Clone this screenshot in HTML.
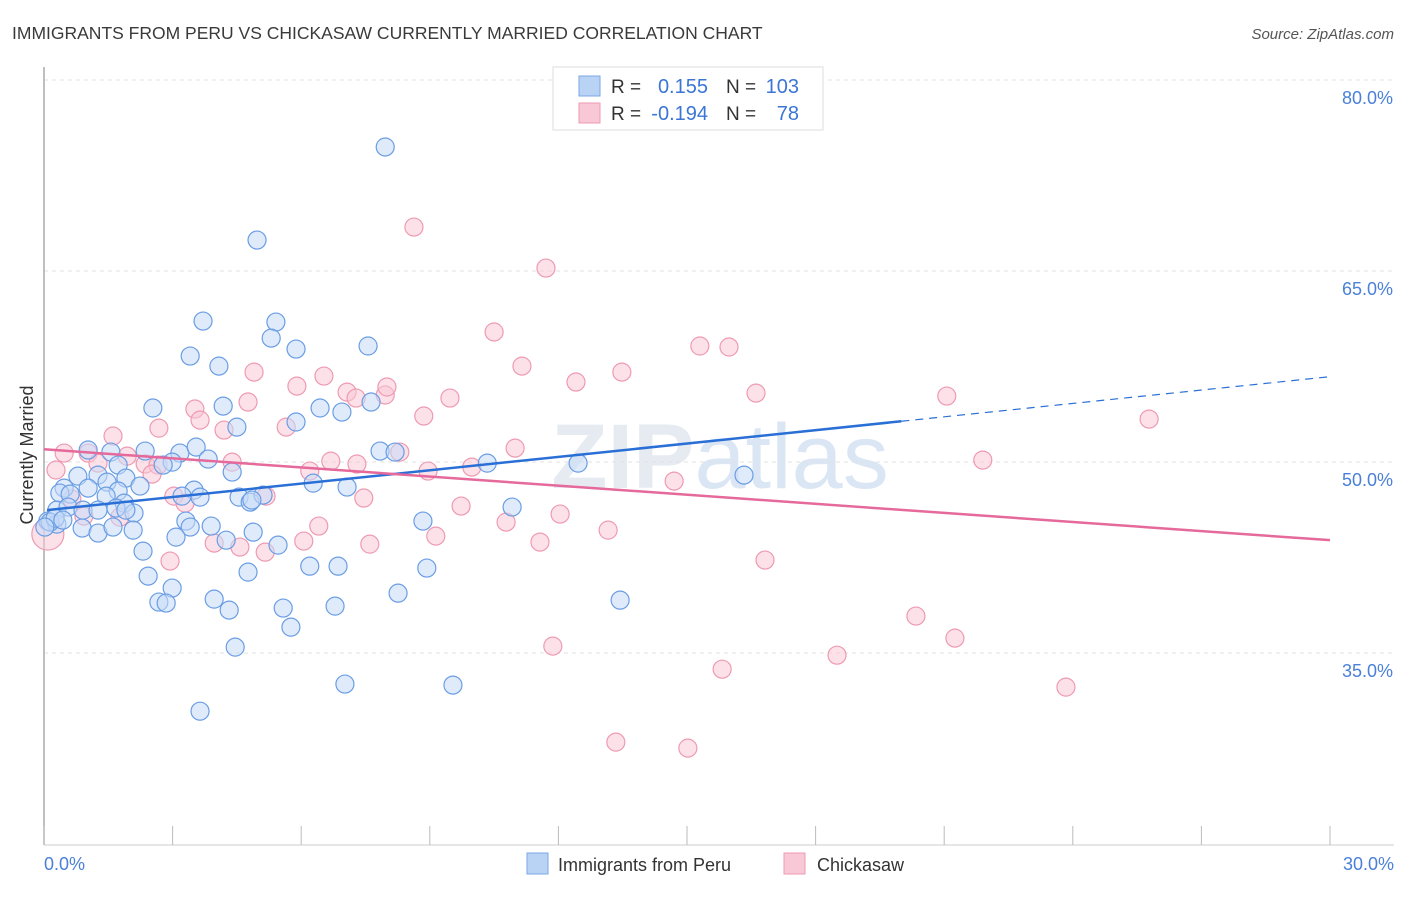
<!DOCTYPE html>
<html><head><meta charset="utf-8"><style>
body{margin:0;background:#fff;font-family:"Liberation Sans",sans-serif;}
svg text{font-family:"Liberation Sans",sans-serif;}
</style></head><body>
<svg id="chart" width="1406" height="892" viewBox="0 0 1406 892" xmlns="http://www.w3.org/2000/svg">
<text x="12" y="39" font-size="17.5" fill="#3a3a3a">IMMIGRANTS FROM PERU VS CHICKASAW CURRENTLY MARRIED CORRELATION CHART</text>
<text x="1394" y="39" font-size="15" fill="#555" font-style="italic" text-anchor="end">Source: ZipAtlas.com</text>
<text x="720" y="488" font-size="92" fill="#e6ebf2" text-anchor="middle" font-weight="bold" font-family="Liberation Serif">ZIP<tspan font-weight="normal" font-family="Liberation Sans" fill="#dbe6f5">atlas</tspan></text>
<g id="grid"></g><g id="axes"></g><g id="pts"></g><g id="trend"></g>
<text transform="translate(33,455) rotate(-90)" font-size="18" fill="#333" text-anchor="middle">Currently Married</text>
<g>
<rect x="553" y="67" width="270" height="63" fill="#fff" stroke="#ddd"/>
<rect x="579" y="76" width="21" height="20" fill="#b9d3f5" stroke="#7aa7e6"/>
<rect x="579" y="103" width="21" height="20" fill="#f9c8d6" stroke="#ee9ab2"/>
<text x="611" y="93" font-size="19" fill="#333">R =</text>
<text x="708" y="93" font-size="20" fill="#3b76d6" text-anchor="end">0.155</text>
<text x="726" y="93" font-size="19" fill="#333">N =</text>
<text x="799" y="93" font-size="20" fill="#3b76d6" text-anchor="end">103</text>
<text x="611" y="120" font-size="19" fill="#333">R =</text>
<text x="708" y="120" font-size="20" fill="#3b76d6" text-anchor="end">-0.194</text>
<text x="726" y="120" font-size="19" fill="#333">N =</text>
<text x="799" y="120" font-size="20" fill="#3b76d6" text-anchor="end">78</text>
</g>
<g>
<rect x="527" y="853" width="21" height="21" fill="#b9d3f5" stroke="#7aa7e6"/>
<text x="558" y="871" font-size="18" fill="#333">Immigrants from Peru</text>
<rect x="784" y="853" width="21" height="21" fill="#f9c8d6" stroke="#ee9ab2"/>
<text x="817" y="871" font-size="18" fill="#333">Chickasaw</text>
</g>
</svg>
<script>
const blueX=[7.96,4.97,3.71,5.41,3.41,5.30,5.88,7.56,4.08,2.54,4.18,7.63,5.88,6.44,6.95,4.50,2.36,3.17,3.55,3.83,2.99,2.78,1.56,1.03,1.73,7.84,8.19,10.34,12.46,16.33,4.39,1.91,1.26,0.79,1.47,2.24,0.47,0.37,0.61,1.03,1.73,1.45,1.87,2.10,7.07,6.28,3.50,3.64,3.22,4.55,4.81,5.11,4.85,0.30,0.56,0.91,1.26,1.68,1.91,0.09,0.30,0.89,1.26,1.61,2.08,3.31,3.41,3.90,4.88,3.08,4.25,8.84,10.92,5.46,2.31,6.20,6.86,4.76,8.93,2.43,2.99,3.97,2.68,2.85,4.32,5.58,6.79,8.26,13.44,5.76,4.46,7.02,9.54,3.64,0.14,0.26,0.02,0.44];
const blueY=[74.74,67.43,61.07,60.99,58.32,59.73,58.87,59.11,57.53,54.24,54.39,54.71,53.14,54.24,53.92,52.74,50.86,50.70,51.17,50.23,49.99,49.76,50.78,50.94,49.76,50.86,50.78,49.91,49.91,48.97,49.21,48.74,48.97,48.89,48.42,48.11,47.95,47.56,47.48,47.95,47.72,47.32,46.77,45.99,48.03,48.34,47.79,47.24,47.32,47.24,46.85,47.40,47.01,46.22,46.46,46.22,46.22,46.38,46.22,45.36,45.12,44.81,44.42,44.89,44.65,45.36,44.89,44.97,44.49,44.10,43.86,45.36,46.46,43.47,43.00,41.82,41.82,41.35,41.67,41.04,40.10,39.23,39.00,38.92,38.37,38.53,38.68,39.70,39.15,37.03,35.46,32.56,32.48,30.43,45.28,45.59,44.89,45.44];
const pinkX=[8.63,11.71,10.50,15.30,15.98,11.15,13.48,4.90,5.90,6.53,12.41,7.07,7.28,7.96,8.00,16.61,21.06,25.78,9.47,3.52,4.76,3.64,5.65,8.86,1.61,2.68,4.20,0.47,1.03,1.26,1.94,2.36,2.66,4.39,6.69,7.30,8.30,10.99,21.90,0.28,2.52,6.20,8.96,9.98,14.70,3.03,3.29,5.18,7.46,0.65,9.73,0.93,1.77,12.04,10.78,6.41,13.16,9.14,11.57,3.97,4.57,6.06,7.60,5.16,2.94,16.82,20.34,21.25,11.87,18.50,15.82,23.84,13.34,15.02,0.09];
const pinkY=[68.45,65.23,60.21,59.11,59.03,57.53,57.06,57.06,55.96,56.75,56.28,55.49,55.02,55.26,55.89,55.41,55.18,53.37,55.02,54.16,54.71,53.29,52.74,53.61,52.04,52.66,52.51,50.70,50.70,49.91,50.46,49.84,49.76,49.99,50.07,49.84,50.78,51.09,50.15,49.37,49.05,49.29,49.29,49.60,48.50,47.32,46.77,47.32,47.17,47.09,46.54,45.75,45.67,45.91,45.28,44.97,44.65,44.18,43.71,43.63,43.32,43.79,43.55,42.92,42.22,42.30,37.90,36.17,35.54,34.83,33.73,32.32,28.00,27.53,44.34];
const blueTrend=[46.2,0.35];   // intercept, slope
const pinkTrend=[51.0,-0.238];
const yTicks=[80,65,50,35];
const yTickLabels=["80.0%","65.0%","50.0%","35.0%"];
const xTicks=[0,3,6,9,12,15,18,21,24,27,30];
const xEndLabels=["0.0%","30.0%"];

const NS="http://www.w3.org/2000/svg";
const X0=44,X1=1330,Y0=80,Y1=844,XMAX=30,YMIN=20,YMAX=80;
const sx=v=>X0+(v/XMAX)*(X1-X0);
const sy=v=>Y0+(YMAX-v)/(YMAX-YMIN)*(Y1-Y0);
function mk(tag,attrs,parent){const e=document.createElementNS(NS,tag);for(const k in attrs)e.setAttribute(k,attrs[k]);parent.appendChild(e);return e;}
const grid=document.getElementById('grid'),axes=document.getElementById('axes'),pts=document.getElementById('pts'),trend=document.getElementById('trend');
yTicks.forEach((t,i)=>{
  const l=mk('line',{x1:X0,x2:1394,y1:sy(t),y2:sy(t),stroke:'#e2e2e2','stroke-dasharray':'4,4'},grid);
  
  
  const tx=mk('text',{x:1393,y:sy(t)+24,'font-size':18,fill:'#4a80d8','text-anchor':'end'},grid);
  tx.textContent=yTickLabels[i];
  
  
});
const ya=mk('line',{x1:X0,x2:X0,y1:67,y2:845,stroke:'#aaa','stroke-width':1.5},axes);


const xa=mk('line',{x1:X0,x2:1394,y1:845,y2:845,stroke:'#ccc'},axes);


xTicks.forEach(t=>{
  const l=mk('line',{x1:sx(t),x2:sx(t),y1:826,y2:845,stroke:'#bbb'},axes);
  
  
});
[[0,'start',44],[30,'end',1394]].forEach((d,i)=>{
  const tx=mk('text',{x:d[2],y:870,'font-size':18,fill:'#4a80d8','text-anchor':d[1]},axes);
  tx.textContent=xEndLabels[i];
  
  
});
function dots(xs,ys,fill,stroke,name){
  xs.forEach((x,i)=>{
    const r=(x<0.12&&name==='chickasaw-point')?16:9;
    const c=mk('circle',{cx:sx(x),cy:sy(ys[i]),r:r,fill:fill,'fill-opacity':0.55,stroke:stroke,'stroke-width':1.2},pts);
    
    
  });
}
dots(pinkX,pinkY,'#f9c8d6','#ee9ab2','chickasaw-point');
dots(blueX,blueY,'#c5dbf7','#6a9de4','peru-point');
const bt=v=>blueTrend[0]+blueTrend[1]*v, pt=v=>pinkTrend[0]+pinkTrend[1]*v;
const b1=mk('line',{x1:sx(0.07),y1:sy(bt(0.07)),x2:sx(20),y2:sy(bt(20)),stroke:'#2a6fd6','stroke-width':2.5},trend);


const b2=mk('line',{x1:sx(20),y1:sy(bt(20)),x2:sx(30),y2:sy(bt(30)),stroke:'#2a6fd6','stroke-width':1.2,'stroke-dasharray':'8,6'},trend);


const p1=mk('line',{x1:sx(0),y1:sy(pt(0)),x2:sx(30),y2:sy(pt(30)),stroke:'#e5699a','stroke-width':2.5},trend);


</script>
</body></html>
